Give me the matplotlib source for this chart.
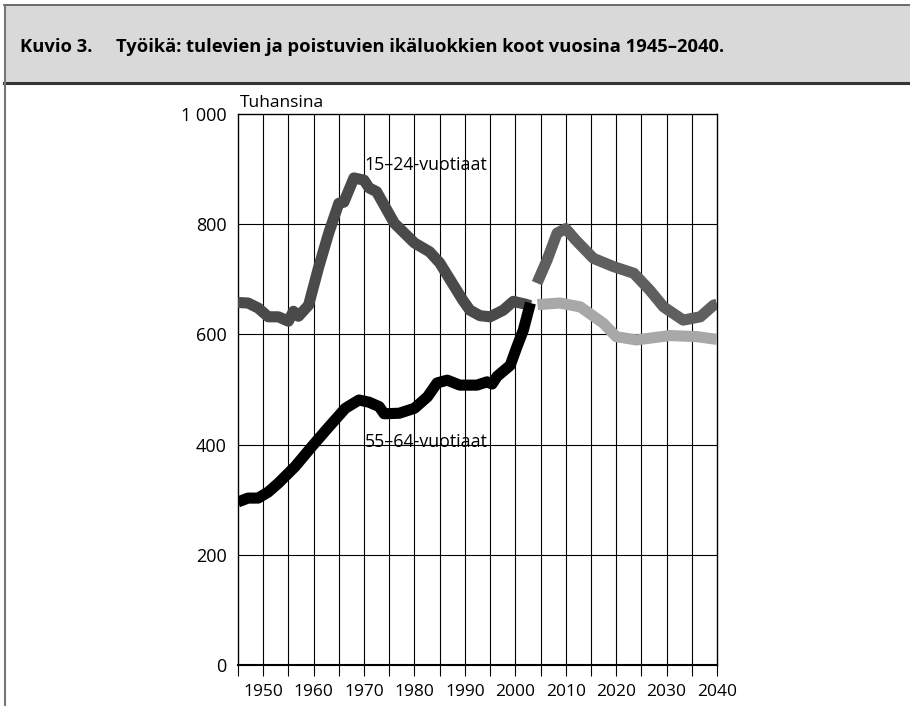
import matplotlib.pyplot as plt
from matplotlib.patches import Rectangle
from matplotlib.lines import Line2D

plt.rcParams['font.family'] = ['Open Sans', 'DejaVu Sans']

# 15-24-vuotiaat, toteutunut (tuhansina)
young_years = [1945, 1947, 1949, 1951, 1953, 1955, 1956, 1957, 1959, 1961, 1963, 1965,
               1966, 1968, 1970, 1971, 1972.5, 1976, 1980, 1983, 1985, 1989.6, 1991,
               1993, 1995, 1997.6, 1999.6, 2002, 2003]
young_vals = [658, 657, 648, 632, 632, 624, 642, 633, 653, 722, 784, 838,
              840, 884, 880, 866, 859, 802, 766, 750, 730, 662, 644,
              634, 632, 644, 660, 655, 652]

# 15-24-vuotiaat, ennuste
young_proj_years = [2004.3, 2006.3, 2008.3, 2010, 2012, 2015.5, 2019.5, 2023.5,
                    2026.7, 2029.4, 2033.3, 2036.7, 2039.3, 2040]
young_proj_vals = [693, 735, 784, 792, 771, 738, 723, 711, 680, 650, 626, 632, 653, 655]

# 55-64-vuotiaat, toteutunut
old_years = [1945, 1947, 1949, 1951, 1953, 1956.3, 1959.6, 1963, 1966.3, 1969, 1971,
             1973, 1974, 1977, 1980, 1982.6, 1984.5, 1986.5, 1989, 1992.4, 1994.4,
             1995.4, 1996.4, 1999, 2000.3, 2001.6, 2003]
old_vals = [296, 303, 303, 314, 330, 360, 396, 432, 466, 481, 477,
            469, 456, 457, 466, 487, 512, 517, 508, 508, 514,
            510, 524, 544, 577, 608, 657]

# 55-64-vuotiaat, ennuste
old_proj_years = [2004.4, 2008.8, 2012.9, 2017.5, 2020, 2024, 2030.7, 2036, 2040]
old_proj_vals = [654, 657, 650, 620, 596, 590, 598, 596, 591]

x_labels = [1950, 1960, 1970, 1980, 1990, 2000, 2010, 2020, 2030, 2040]
y_ticks = [0, 200, 400, 600, 800, 1000]
y_labels = ['0', '200', '400', '600', '800', '1 000']

fig = plt.figure(figsize=(9.1, 7.06), dpi=100)

# title band
fig.patches.append(Rectangle((0.004, 0.882), 0.996, 0.111, transform=fig.transFigure,
                             facecolor='#d9d9d9', edgecolor='none', zorder=0))
fig.add_artist(Line2D([0.004, 1.0], [0.993, 0.993], color='#555555', lw=1.2))
fig.add_artist(Line2D([0.004, 1.0], [0.882, 0.882], color='#333333', lw=2.2))
fig.add_artist(Line2D([0.005, 0.005], [0.0, 0.993], color='#777777', lw=1.5))
fig.text(0.022, 0.933, 'Kuvio 3.', fontsize=13.2, fontweight='bold', va='center')
fig.text(0.128, 0.933, 'Työikä: tulevien ja poistuvien ikäluokkien koot vuosina 1945–2040.',
         fontsize=13.2, fontweight='bold', va='center')

ax = fig.add_axes([0.2615, 0.058, 0.5264, 0.7805])
ax.set_xlim(1945, 2040)
ax.set_ylim(0, 1000)

for yr in range(1950, 2040, 5):
    ax.axvline(yr, color='black', lw=0.8, zorder=1)
for v in y_ticks[1:-1]:
    ax.axhline(v, color='black', lw=0.8, zorder=1)

lw = 8
ax.plot(young_years, young_vals, color='#4a4a4a', lw=lw, solid_capstyle='butt', zorder=3)
ax.plot(young_proj_years, young_proj_vals, color='#5f5f5f', lw=lw, solid_capstyle='butt', zorder=3)
ax.plot(old_proj_years, old_proj_vals, color='#a8a8a8', lw=lw, solid_capstyle='butt', zorder=3)
ax.plot(old_years, old_vals, color='black', lw=lw, solid_capstyle='butt', zorder=4)

ax.text(1970.1, 907, '15–24-vuotiaat', fontsize=12.8, va='center', ha='left', zorder=5)
ax.text(1970.1, 405, '55–64-vuotiaat', fontsize=12.8, va='center', ha='left', zorder=5)
ax.text(1945.3, 1006, 'Tuhansina', fontsize=12.5, va='bottom', ha='left')

ax.set_yticks(y_ticks)
ax.set_yticklabels(y_labels, fontsize=13)
ax.tick_params(axis='y', length=0, pad=8)
ax.set_xticks(list(range(1945, 2041, 5)), minor=True)
ax.set_xticks(x_labels)
ax.set_xticklabels([str(x) for x in x_labels], fontsize=12.5)
ax.tick_params(axis='x', which='both', length=8, width=0.8, direction='out', pad=6)

for s in ax.spines.values():
    s.set_linewidth(1.0)
ax.spines['bottom'].set_linewidth(1.5)

fig.savefig('out.png', dpi=100)
